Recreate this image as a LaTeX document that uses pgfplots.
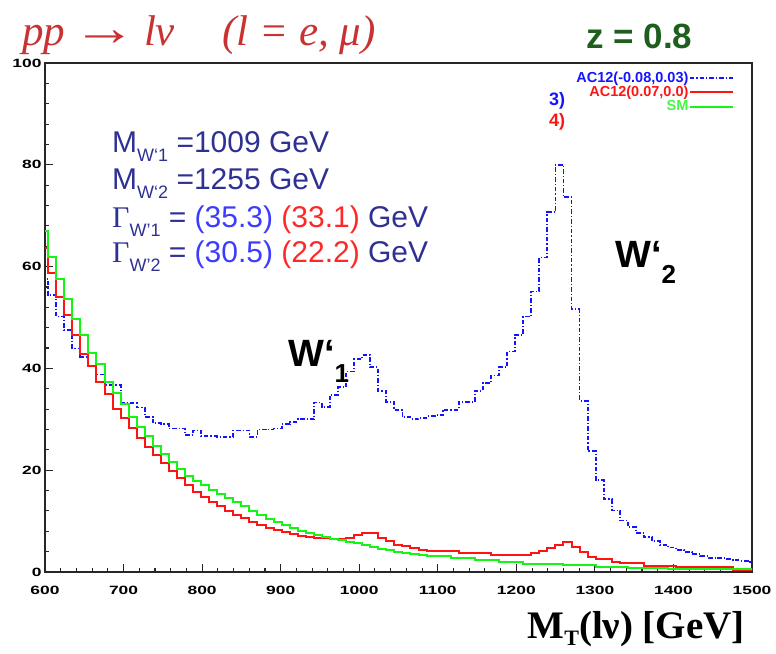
\documentclass[border=0pt]{standalone}
\usepackage{fontspec}
\setmainfont{Liberation Sans}
\newfontfamily\serif{Liberation Serif}
\usepackage{graphicx}
\usepackage{xcolor}
\usepackage{pgfplots}
\pgfplotsset{compat=1.18}
\usepackage{pgfplotstable}
\definecolor{rblue}{RGB}{20,20,255}
\definecolor{rred}{RGB}{255,20,20}
\definecolor{rgreen}{RGB}{20,245,20}
\definecolor{navy}{HTML}{2E3192}
\definecolor{pblue}{HTML}{3C3CFF}
\definecolor{pred}{HTML}{FF2828}
\definecolor{titlered}{HTML}{C83232}
\definecolor{zgreen}{HTML}{1E5F1E}
\newcommand{\sub}[1]{\raisebox{-0.3em}{\fontsize{18}{18}\selectfont #1}}
\newcommand{\gr}{\symbol{96}}

% left bin edge, AC12(-0.08,0.03), AC12(0.07,0.0), SM
\pgfplotstableread{
x b r g
593.75 57.5 63.6 67.0
604 54.4 58.8 61.8
614.25 50.2 54.0 57.5
624.5 47.5 50.4 53.6
634.75 43.9 46.6 49.7
645 42.3 42.8 46.6
655.25 40.5 40.4 43.1
665.5 38.8 37.4 40.8
675.75 36.7 34.9 37.4
686 36.7 32.1 35.1
696.25 33.2 30.2 33.0
706.5 33.2 28.2 30.5
716.75 32.3 26.3 28.5
727 30.5 24.6 26.8
737.25 29.2 23.0 24.8
747.5 29.0 21.4 23.2
757.75 28.2 19.9 21.6
768 28.2 18.4 20.2
778.25 26.9 17.1 18.8
788.5 27.8 15.8 17.8
798.75 26.7 14.8 17.0
809 26.7 13.8 16.2
819.25 26.6 12.9 15.3
829.5 26.6 12.0 14.5
839.75 27.8 11.2 13.8
850 27.8 10.6 13.0
860.25 26.6 9.8 12.0
870.5 28.0 9.3 11.2
880.75 28.0 8.7 10.5
891 28.2 8.2 9.8
901.25 29.1 7.9 9.2
911.5 29.5 7.4 8.7
921.75 30.0 7.0 8.1
932 30.0 6.8 7.7
942.25 33.3 6.7 7.2
952.5 32.4 6.6 6.8
962.75 34.8 6.5 6.5
973 36.3 6.5 6.2
983.25 39.4 6.6 5.9
993.5 41.8 7.2 5.6
1003.75 42.6 7.6 5.3
1014 40.2 7.6 5.0
1024.25 35.5 6.7 4.6
1034.5 33.4 6.0 4.3
1044.75 31.8 5.4 4.0
1055 30.4 5.1 3.8
1065.25 30.0 4.8 3.5
1075.5 30.2 4.4 3.3
1085.75 30.6 4.2 3.2
1096 30.8 4.1 3.2
1106.25 31.9 4.2 3.2
1116.5 31.9 4.2 2.7
1126.75 33.4 3.8 2.7
1137 33.4 3.8 2.7
1147.25 35.6 3.8 2.4
1157.5 37.1 3.8 2.4
1167.75 38.6 3.4 2.4
1178 40.3 3.4 1.9
1188.25 43.3 3.4 1.9
1198.5 46.6 3.4 1.9
1208.75 50.2 3.4 1.6
1219 55.1 3.8 1.6
1229.25 61.8 4.2 1.6
1239.5 70.7 4.7 1.6
1249.75 80.0 5.3 1.6
1260 73.6 5.8 1.3
1270.25 51.6 4.9 1.3
1280.5 33.6 3.9 1.3
1290.75 23.7 2.9 1.3
1301 18.0 2.5 0.9
1311.25 14.3 2.5 0.9
1321.5 12.1 2.0 0.9
1331.75 10.1 1.7 0.9
1342 8.8 1.7 0.8
1352.25 7.7 1.7 0.7
1362.5 6.9 1.2 0.7
1372.75 6.1 1.2 0.7
1383 5.3 1.2 0.7
1393.25 4.8 1.2 0.5
1403.5 4.3 0.9 0.5
1413.75 4.0 0.9 0.5
1424 3.5 0.9 0.5
1434.25 3.1 0.9 0.5
1444.5 2.8 0.9 0.5
1454.75 2.7 0.9 0.5
1465 2.5 0.9 0.5
1475.25 2.3 0.4 0.5
1485.5 2.2 0.4 0.5
1495.75 2.0 0.4 0.5
1506 2.0 0.4 0.5
}\hist

\begin{document}
\begin{tikzpicture}
\path[use as bounding box] (0,0) rectangle (776pt,653pt);
\begin{axis}[at={(45pt,81pt)}, anchor=south west, width=707pt, height=509pt, scale only axis,
  xmin=600, xmax=1500, ymin=0, ymax=100,
  xtick={600,700,...,1500}, ytick={0,20,...,100},
  minor x tick num=4, minor y tick num=4,
  tick align=inside, xtick pos=left, ytick pos=left,
  major tick length=8pt, minor tick length=4pt,
  axis line style={line width=1.5pt, black!85},
  every tick/.style={line width=1.1pt, black!85},
  xticklabel={\scalebox{1.45}[1]{\bfseries\pgfmathprintnumber[1000 sep={},assume math mode=true]{\tick}}},
  yticklabel={\scalebox{1.45}[1]{\bfseries\pgfmathprintnumber[1000 sep={},assume math mode=true]{\tick}}},
  tick label style={font=\fontsize{12}{12}\selectfont},
  xticklabel style={yshift=-11pt},
  legend style={at={(0.979,0.988)}, anchor=north east, draw=none, fill=none,
    font=\fontsize{14.5}{14.5}\selectfont\bfseries, row sep=1.5pt, nodes={inner sep=0.5pt}},
  legend cell align=right, legend plot pos=right,
  legend image code/.code={\draw[#1] (0pt,0pt) -- (43pt,0pt);}]
\addplot[const plot, rblue, line width=1.8pt, dash pattern=on 4.5pt off 2pt on 1.2pt off 2pt] table[x=x, y=b] {\hist};
\addlegendentry{\textcolor{rblue}{AC12(-0.08,0.03)}}
\addplot[const plot, rred, line width=2pt] table[x=x, y=r] {\hist};
\addlegendentry{\textcolor{rred}{AC12(0.07,0.0)}}
\addplot[const plot, rgreen, line width=2pt] table[x=x, y=g] {\hist};
\addlegendentry{\textcolor{rgreen!80!white}{SM}}
\end{axis}
\begin{scope}[x=1pt, y=-1pt, yshift=653pt]
\node[anchor=base west, inner sep=0pt, text=titlered, font=\serif\itshape\fontsize{43}{43}\selectfont] at (22,46) {pp\,\scalebox{1.5}[1.2]{→}\,lν\hspace{1.1em}(l = e, μ)};
\node[anchor=base west, inner sep=0pt, text=zgreen, font=\bfseries\fontsize{35}{35}\selectfont] at (586,49) {z = 0.8};
\node[anchor=base, inner sep=0pt, text=rblue, font=\bfseries\fontsize{18}{18}\selectfont] at (557,106) {3)};
\node[anchor=base, inner sep=0pt, text=rred, font=\bfseries\fontsize{18}{18}\selectfont] at (557,127) {4)};
\begin{scope}[every node/.style={anchor=base west, inner sep=0pt, text=navy, font=\fontsize{30}{30}\selectfont}]
\node at (112,153) {M\sub{W\gr 1} =1009 GeV};
\node at (112,190) {M\sub{W\gr 2} =1255 GeV};
\node at (112,228) {{\serif Γ}\sub{W'1} = \textcolor{pblue}{(35.3)} \textcolor{pred}{(33.1)} GeV};
\node at (112,263) {{\serif Γ}\sub{W'2} = \textcolor{pblue}{(30.5)} \textcolor{pred}{(22.2)} GeV};
\end{scope}
\node[anchor=base west, inner sep=0pt, font=\bfseries\fontsize{38}{38}\selectfont] at (288,367) {W\gr\raisebox{-0.4em}{\fontsize{26}{26}\selectfont 1}};
\node[anchor=base west, inner sep=0pt, font=\bfseries\fontsize{38}{38}\selectfont] at (615,268) {W\gr\raisebox{-0.4em}{\fontsize{26}{26}\selectfont 2}};
\node[anchor=base east, inner sep=0pt, font=\serif\bfseries\fontsize{39}{39}\selectfont] at (745,638) {M\raisebox{-0.2em}{\fontsize{22}{22}\selectfont T}(lν) [GeV]};
\end{scope}
\end{tikzpicture}
\end{document}
